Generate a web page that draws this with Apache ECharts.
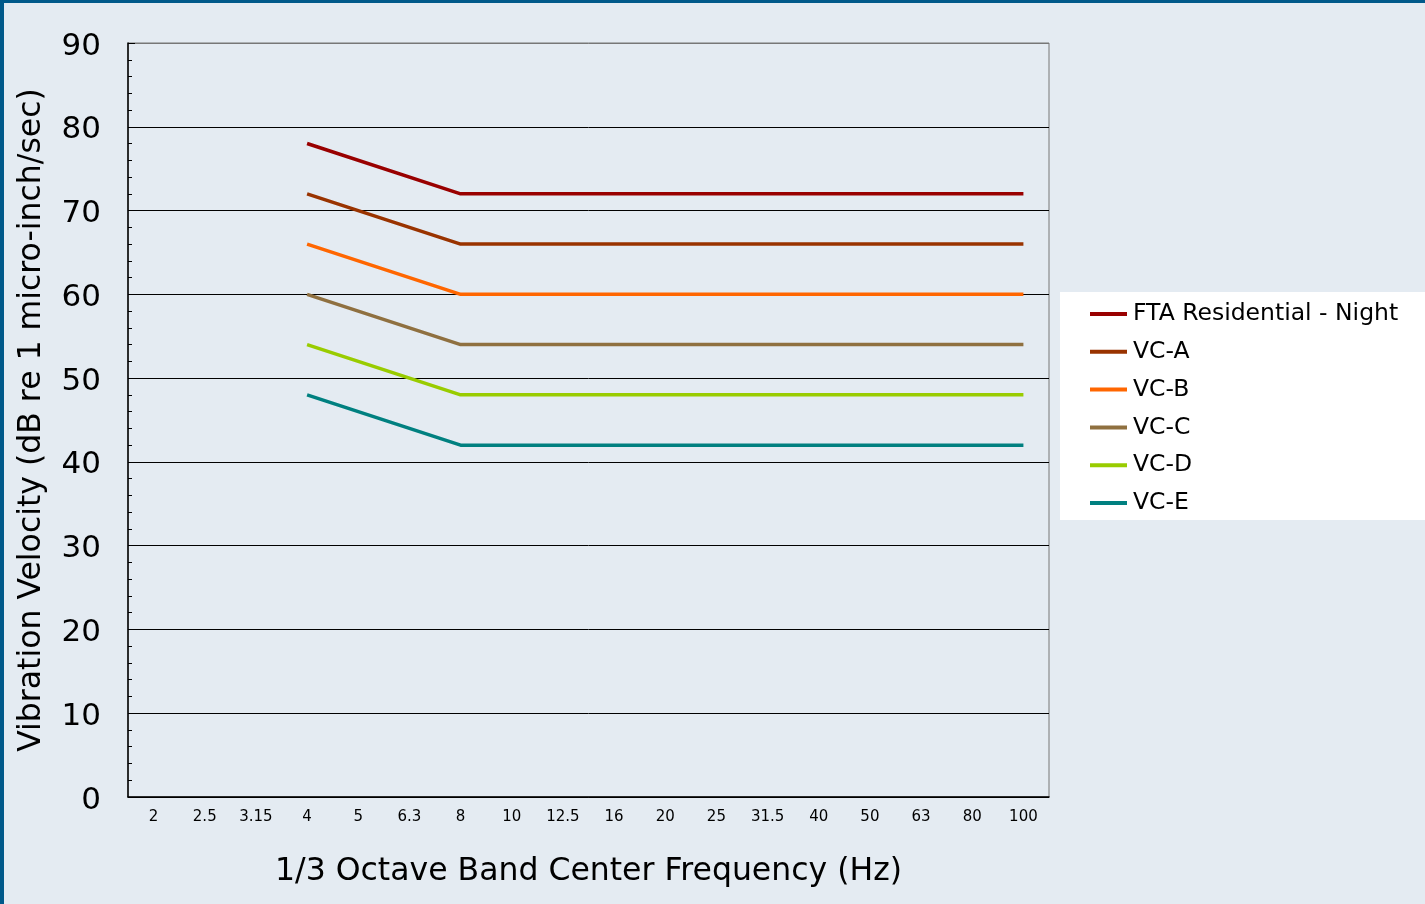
<!DOCTYPE html>
<html>
<head>
<meta charset="utf-8">
<script src="https://cdn.jsdelivr.net/npm/echarts@6/dist/echarts.min.js"></script>
<style>
  html, body { margin: 0; padding: 0; background: #e4ebf2; }
  #chart { position: absolute; left: 0; top: 0; width: 1425px; height: 904px; }
  .bt { position: absolute; left: 0; top: 0; width: 1425px; height: 3px; background: #00598a; }
  .bl { position: absolute; left: 0; top: 0; width: 4px; height: 904px; background: #00598a; }
</style>
</head>
<body>
<div id="chart"></div>
<div class="bt"></div>
<div class="bl"></div>
<script>
const categories = ['2', '2.5', '3.15', '4', '5', '6.3', '8', '10', '12.5', '16', '20', '25', '31.5', '40', '50', '63', '80', '100'];
const seriesNames = ['FTA Residential - Night', 'VC-A', 'VC-B', 'VC-C', 'VC-D', 'VC-E'];
const ftaNight = [null, null, null, 78, null, null, 72, 72, 72, 72, 72, 72, 72, 72, 72, 72, 72, 72];
const vcA = [null, null, null, 72, null, null, 66, 66, 66, 66, 66, 66, 66, 66, 66, 66, 66, 66];
const vcB = [null, null, null, 66, null, null, 60, 60, 60, 60, 60, 60, 60, 60, 60, 60, 60, 60];
const vcC = [null, null, null, 60, null, null, 54, 54, 54, 54, 54, 54, 54, 54, 54, 54, 54, 54];
const vcD = [null, null, null, 54, null, null, 48, 48, 48, 48, 48, 48, 48, 48, 48, 48, 48, 48];
const vcE = [null, null, null, 48, null, null, 42, 42, 42, 42, 42, 42, 42, 42, 42, 42, 42, 42];
const colors = ['#990000', '#993300', '#ff6600', '#8f7040', '#99cc00', '#008080'];

const allData = [ftaNight, vcA, vcB, vcC, vcD, vcE];
const font = 'DejaVu Sans, Verdana, sans-serif';

const chart = echarts.init(document.getElementById('chart'), null, { renderer: 'canvas' });
chart.setOption({
  backgroundColor: '#e4ebf2',
  animation: false,
  textStyle: { fontFamily: font },
  graphic: [{
    type: 'rect', left: 1060, top: 292, z: 0,
    shape: { width: 370, height: 228 },
    style: { fill: '#ffffff' }
  }],
  grid: {
    left: 128, top: 43, right: 376, bottom: 107,
    show: true, borderColor: '#777777', borderWidth: 1, backgroundColor: 'transparent'
  },
  legend: {
    orient: 'vertical',
    left: 1090, top: 302,
    padding: 0,
    icon: 'rect',
    itemWidth: 37, itemHeight: 4,
    itemGap: 13.8,
    textStyle: { fontFamily: font, fontSize: 23.5, color: '#000', lineHeight: 22, padding: [0, 0, 0, 1] },
    data: seriesNames,
    z: 5
  },
  xAxis: {
    type: 'category',
    data: categories,
    boundaryGap: true,
    axisLine: { lineStyle: { color: '#000', width: 1.5 } },
    axisTick: { inside: true, length: 4, lineStyle: { color: '#000' } },
    axisLabel: { fontFamily: font, fontSize: 15, color: '#000', margin: 13, interval: 0 },
    splitLine: { show: false },
    name: '1/3 Octave Band Center Frequency (Hz)',
    nameLocation: 'middle',
    nameGap: 59,
    nameTextStyle: { fontFamily: font, fontSize: 31.5, color: '#000' }
  },
  yAxis: {
    type: 'value',
    min: 0, max: 90, interval: 10,
    axisLine: { show: true, lineStyle: { color: '#000', width: 1.5 } },
    axisTick: { show: true, inside: true, length: 7, lineStyle: { color: '#000' } },
    minorTick: { show: true, splitNumber: 5, length: 4, lineStyle: { color: '#000' } },
    axisLabel: {
      fontFamily: font, fontSize: 31, color: '#000', margin: 27,
      formatter: '{v|{value}}',
      rich: { v: { fontFamily: font, fontSize: 31, color: '#000', padding: [7, 0, 0, 0] } }
    },
    splitLine: { show: true, lineStyle: { color: ['#000', '#000', '#000', '#000', '#000', '#000', '#000', '#000', '#000', '#777'], width: 1 } },
    name: 'Vibration Velocity (dB re 1 micro-inch/sec)',
    nameLocation: 'middle',
    nameGap: 80,
    nameTextStyle: { fontFamily: font, fontSize: 31.5, color: '#000' }
  },
  series: seriesNames.map((n, i) => ({
    name: n,
    type: 'line',
    data: allData[i],
    connectNulls: true,
    showSymbol: false,
    symbol: 'none',
    color: colors[i],
    lineStyle: { width: 3.5, color: colors[i] },
    z: 3
  }))
});
</script>
</body>
</html>
